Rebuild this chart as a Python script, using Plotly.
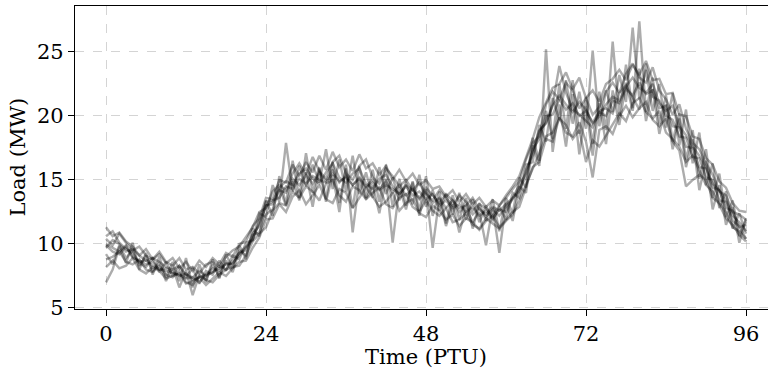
import plotly.graph_objects as go

ptu = list(range(97))

s1 = [10.0, 9.7, 9.4, 9.9, 8.9, 8.7, 8.4, 8.6, 8.0, 8.1,
      7.8, 7.5, 7.7, 7.2, 7.4, 7.6, 8.1, 7.9, 8.5, 8.4,
      9.3, 9.5, 10.8, 11.4, 13.0, 13.1, 14.2, 14.0, 15.1, 14.6,
      15.4, 14.7, 15.6, 14.9, 15.8, 14.8, 15.3, 14.6, 15.2, 14.5,
      15.0, 14.3, 14.9, 14.0, 14.6, 13.8, 14.3, 13.5, 14.1, 13.2,
      13.6, 12.8, 13.4, 12.5, 13.0, 12.3, 12.8, 12.1, 12.7, 12.2,
      12.9, 13.5, 14.3, 15.2, 17.4, 18.2, 20.0, 20.1, 21.3, 20.5,
      21.0, 20.0, 20.4, 19.5, 20.3, 20.0, 21.2, 21.0, 22.1, 21.6,
      22.6, 21.7, 22.0, 20.6, 20.8, 19.2, 19.1, 17.6, 17.5, 16.0,
      15.9, 14.4, 14.2, 12.8, 12.6, 11.3, 11.5]
s2 = [11.3, 10.6, 10.9, 10.2, 9.8, 9.1, 9.6, 8.8, 9.2, 8.5,
      8.9, 8.1, 8.6, 7.9, 8.7, 8.2, 8.9, 8.4, 9.3, 9.0,
      10.0, 10.2, 11.4, 12.0, 13.6, 13.5, 15.0, 14.8, 16.2, 15.3,
      16.4, 15.6, 16.9, 15.8, 17.2, 16.0, 16.6, 15.7, 17.0, 15.9,
      16.3, 15.4, 16.1, 15.0, 15.8, 14.9, 15.5, 14.6, 15.0, 14.3,
      14.5, 13.7, 14.2, 13.3, 13.9, 13.1, 13.6, 12.9, 13.4, 13.0,
      13.8, 14.5, 15.3, 16.8, 18.2, 19.9, 21.0, 22.2, 22.5, 23.4,
      22.1, 23.0, 21.4, 22.0, 21.1, 22.5, 22.9, 23.6, 22.8, 24.0,
      23.2, 24.3, 22.8, 22.9, 21.7, 21.8, 20.1, 20.0, 18.4, 18.2,
      16.7, 16.2, 14.9, 14.4, 13.2, 12.6, 12.5]
s3 = [8.2, 8.7, 8.1, 8.3, 8.9, 8.0, 7.7, 8.2, 7.9, 7.3,
      7.5, 7.7, 6.9, 7.1, 7.4, 6.8, 7.3, 7.8, 7.5, 8.1,
      8.6, 8.7, 9.7, 10.5, 11.9, 12.0, 13.1, 12.5, 13.7, 14.2,
      13.1, 13.8, 14.6, 13.5, 13.2, 14.3, 14.0, 12.8, 13.6, 14.4,
      13.7, 12.9, 13.3, 14.0, 12.6, 13.2, 13.5, 12.4, 12.1, 13.0,
      12.6, 11.9, 12.3, 11.4, 12.0, 11.7, 11.1, 11.8, 12.2, 11.3,
      11.9, 12.5, 12.9, 14.4, 16.0, 16.4, 18.2, 18.0, 19.9, 18.7,
      18.4, 19.5, 18.0, 15.2, 18.9, 19.2, 18.6, 20.0, 20.8, 19.9,
      20.6, 21.1, 19.7, 19.2, 19.8, 18.0, 17.3, 14.5, 15.0, 15.4,
      15.0, 13.6, 13.2, 12.5, 11.3, 11.0, 10.4]
s4 = [7.0, 8.0, 9.8, 8.5, 10.1, 8.0, 9.3, 7.6, 9.0, 7.4,
      8.6, 7.1, 8.9, 6.6, 8.4, 7.0, 8.8, 7.3, 9.2, 8.1,
      9.9, 8.8, 11.2, 10.6, 13.4, 12.2, 15.3, 13.1, 16.5, 13.6,
      17.1, 14.0, 16.0, 13.5, 16.4, 13.2, 15.9, 12.8, 16.1, 13.6,
      15.8, 13.3, 16.2, 12.9, 15.1, 13.0, 14.9, 12.6, 15.3, 12.2,
      14.1, 11.6, 13.8, 11.9, 13.6, 11.2, 13.2, 11.8, 13.5, 11.0,
      13.6, 12.4, 15.2, 14.4, 18.3, 16.5, 20.4, 18.2, 22.5, 19.0,
      22.8, 18.6, 21.5, 17.8, 21.9, 18.9, 25.8, 20.1, 24.0, 20.6,
      27.4, 20.3, 23.0, 19.4, 21.6, 18.0, 20.2, 16.6, 18.9, 15.1,
      17.4, 13.6, 15.5, 12.1, 13.4, 10.6, 12.0]
s5 = [9.9, 9.4, 9.2, 9.8, 9.0, 8.6, 8.7, 8.3, 8.0, 7.9,
      7.7, 7.6, 7.3, 7.4, 7.0, 7.6, 7.8, 8.1, 8.4, 8.5,
      9.1, 9.7, 10.3, 11.8, 13.3, 13.4, 13.6, 14.5, 14.3, 15.1,
      14.7, 15.3, 15.0, 14.8, 15.5, 14.9, 15.2, 14.6, 15.1, 14.4,
      14.8, 14.2, 14.6, 14.3, 13.9, 14.5, 13.8, 14.1, 13.5, 13.9,
      13.0, 13.4, 12.8, 13.1, 12.5, 12.9, 12.2, 12.6, 12.0, 12.7,
      12.5, 13.6, 14.1, 15.8, 16.9, 18.8, 19.5, 20.9, 23.9, 21.8,
      20.5, 20.1, 19.6, 19.1, 20.4, 20.6, 20.2, 21.8, 22.4, 21.5,
      20.5, 24.1, 21.5, 21.2, 20.0, 19.7, 18.4, 18.3, 16.8, 16.7,
      15.2, 15.0, 13.4, 13.3, 11.8, 11.4, 10.4]
s6 = [10.6, 11.0, 10.1, 9.6, 9.3, 8.5, 8.2, 8.9, 7.8, 8.6,
      7.5, 8.3, 7.4, 8.1, 6.9, 7.9, 7.6, 8.7, 7.9, 9.1,
      8.8, 10.1, 10.3, 12.4, 12.1, 14.6, 13.3, 17.9, 14.1, 16.1,
      14.5, 16.2, 14.8, 17.4, 14.3, 16.6, 14.1, 16.9, 13.9, 15.6,
      13.6, 16.0, 13.9, 15.2, 13.4, 14.8, 13.1, 15.4, 12.9, 14.2,
      12.6, 13.9, 12.3, 14.0, 11.9, 13.5, 11.7, 13.0, 11.8, 12.9,
      11.9, 14.0, 13.6, 16.2, 16.4, 19.3, 18.0, 21.4, 19.7, 22.8,
      19.4, 21.9, 19.0, 25.1, 19.2, 22.0, 20.3, 23.2, 21.1, 26.9,
      21.3, 23.6, 20.4, 22.5, 19.1, 21.8, 17.7, 20.5, 16.3, 18.7,
      14.6, 16.3, 12.8, 14.1, 11.2, 12.4, 10.8]
s7 = [8.8, 9.0, 9.4, 8.6, 8.4, 8.8, 8.0, 7.8, 8.3, 7.6,
      7.4, 7.9, 7.0, 6.8, 7.5, 7.2, 7.0, 7.6, 8.0, 8.2,
      8.3, 9.1, 10.2, 10.8, 11.3, 12.6, 13.2, 13.0, 14.1, 13.6,
      14.5, 14.1, 13.4, 14.7, 15.0, 13.8, 13.3, 14.5, 14.2, 13.5,
      14.0, 14.4, 13.1, 12.8, 13.6, 13.9, 12.9, 12.5, 13.4, 12.6,
      12.2, 12.8, 11.7, 11.9, 12.4, 11.5, 11.2, 12.0, 11.6, 11.2,
      11.8, 12.3, 13.4, 14.6, 15.9, 17.1, 18.4, 18.7, 19.8, 19.3,
      18.2, 18.9, 16.4, 18.1, 17.6, 18.5, 19.3, 20.2, 19.6, 21.0,
      21.4, 20.3, 19.8, 20.4, 18.7, 18.2, 17.6, 16.4, 16.9, 15.8,
      14.6, 14.1, 13.0, 12.0, 11.5, 10.7, 10.2]
s8 = [10.4, 9.9, 10.8, 10.1, 9.5, 9.8, 9.1, 8.8, 9.4, 8.6,
      8.3, 8.9, 8.0, 8.2, 7.7, 8.4, 8.6, 8.2, 9.0, 9.5,
      9.8, 10.6, 11.3, 12.5, 12.8, 14.1, 14.6, 14.2, 15.5, 16.3,
      15.4, 16.8, 15.7, 15.1, 16.4, 16.9, 15.5, 15.0, 16.1, 16.6,
      15.2, 14.7, 15.9, 15.3, 14.5, 15.0, 14.2, 14.8, 13.9, 13.4,
      14.2, 13.6, 13.0, 13.8, 13.3, 12.6, 13.1, 12.8, 12.2, 13.0,
      13.6, 14.3, 14.9, 16.6, 17.9, 18.4, 20.9, 21.9, 21.3, 22.6,
      22.0, 20.6, 21.4, 20.1, 20.7, 21.9, 22.6, 21.8, 23.3, 24.1,
      23.0, 22.6, 23.8, 22.0, 21.3, 20.1, 20.9, 19.0, 17.9, 17.4,
      16.3, 15.4, 14.1, 13.8, 12.5, 12.3, 11.9]
s9 = [9.2, 8.4, 9.9, 8.9, 9.5, 8.3, 9.1, 7.9, 8.5, 7.1,
      8.2, 6.6, 7.9, 6.0, 7.6, 7.2, 8.4, 7.4, 8.7, 7.8,
      9.5, 9.1, 10.7, 10.9, 12.3, 12.7, 14.4, 13.0, 14.9, 13.4,
      15.6, 12.9, 15.9, 13.3, 15.4, 12.5, 16.2, 10.9, 15.0, 13.5,
      14.6, 12.4, 15.1, 10.1, 14.4, 12.7, 14.8, 12.2, 14.3, 9.7,
      13.6, 11.4, 13.1, 10.9, 12.8, 11.7, 12.5, 9.9, 12.9, 9.3,
      13.2, 11.8, 14.5, 14.0, 17.7, 16.1, 25.2, 17.2, 20.9, 17.6,
      21.7, 17.0, 20.8, 16.9, 21.0, 17.8, 22.0, 19.3, 22.6, 20.4,
      23.7, 19.6, 22.1, 18.6, 20.9, 17.4, 19.8, 16.0, 18.2, 14.2,
      16.5, 12.7, 14.6, 11.5, 12.9, 10.1, 11.9]
s10 = [9.7, 10.3, 10.0, 9.4, 9.6, 9.1, 8.7, 8.9, 8.6, 8.2,
       8.0, 8.3, 7.6, 7.4, 7.9, 7.5, 7.8, 8.3, 8.0, 8.7,
       9.3, 9.8, 10.4, 11.6, 13.0, 13.3, 14.4, 14.9, 14.6, 15.5,
       15.9, 15.1, 14.7, 15.6, 16.3, 15.2, 14.8, 15.5, 15.9, 14.7,
       14.3, 15.1, 15.4, 14.5, 13.9, 14.6, 14.2, 13.6, 14.4, 13.8,
       13.2, 13.9, 13.4, 12.8, 13.0, 13.6, 12.7, 12.3, 12.9, 12.6,
       13.1, 13.6, 14.6, 15.5, 17.3, 18.9, 19.4, 20.8, 21.6, 20.9,
       20.3, 21.1, 20.5, 19.4, 20.0, 20.9, 21.5, 21.2, 22.3, 23.0,
       22.2, 21.8, 22.5, 21.0, 20.4, 20.8, 19.2, 18.5, 17.6, 16.9,
       16.0, 14.7, 14.2, 13.4, 12.2, 11.7, 11.0]

series = [s1, s2, s3, s4, s5, s6, s7, s8, s9, s10]

x_ticks = [0, 24, 48, 72, 96]
y_ticks = [5, 10, 15, 20, 25]

FONT = "DejaVu Serif"
FS = 21

fig = go.Figure()
for s in series:
    fig.add_trace(go.Scatter(x=ptu, y=s, mode="lines",
                             line=dict(color="black", width=2.4),
                             opacity=0.32, showlegend=False,
                             hoverinfo="skip"))

axis_style = dict(showgrid=True, gridcolor="rgba(160,160,160,0.45)", gridwidth=1,
                  griddash="dash", zeroline=False, showline=True,
                  linecolor="black", linewidth=1.3, ticks="outside", ticklen=6,
                  tickwidth=1.2, tickcolor="black",
                  tickfont=dict(family=FONT, size=FS, color="black"))

fig.update_layout(
    width=768, height=374,
    margin=dict(l=75, r=0, t=6, b=65),
    paper_bgcolor="white", plot_bgcolor="white",
    font=dict(family=FONT, size=FS, color="black"),
    xaxis=dict(range=[-4.65, 99.3], tickvals=x_ticks, mirror=True, **axis_style),
    yaxis=dict(range=[4.92, 28.59], tickvals=y_ticks, mirror=False, **axis_style),
    annotations=[
        dict(x=48, y=0, xref="x", yref="paper", yshift=-34,
             text="Time (PTU)", showarrow=False, yanchor="top",
             font=dict(family=FONT, size=FS, color="black")),
        dict(x=0, y=0.5, xref="paper", yref="paper", xshift=-58,
             text="Load (MW)", showarrow=False, textangle=-90,
             xanchor="center", yanchor="middle",
             font=dict(family=FONT, size=FS, color="black")),
    ],
)

fig.write_html("out.html", config={"displayModeBar": False},
               post_script="document.body.style.margin='0px';")
